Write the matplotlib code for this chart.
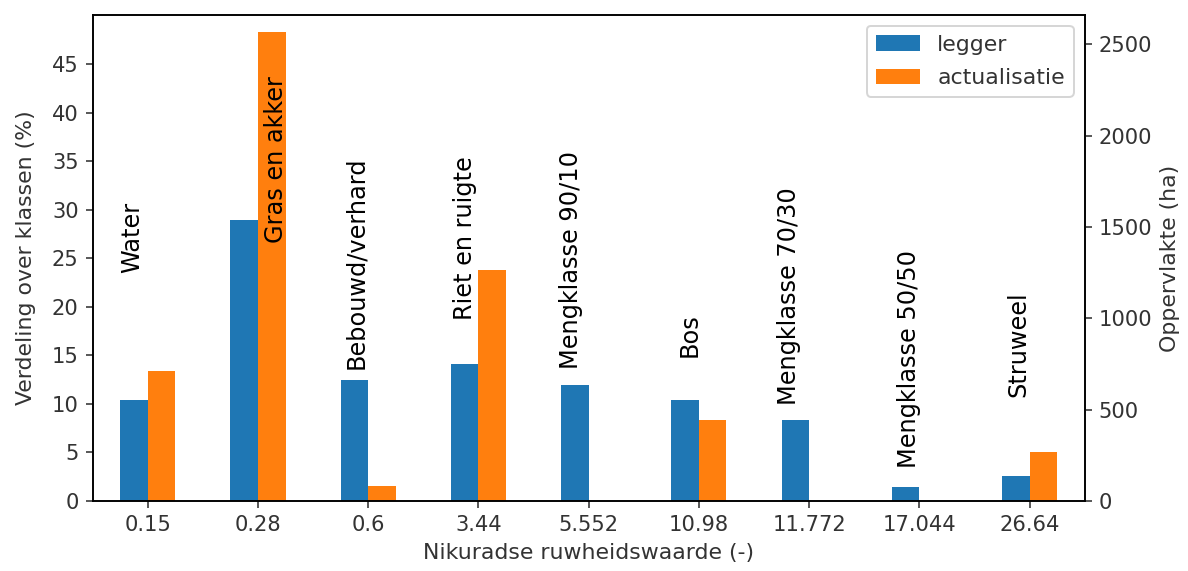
import numpy as np
import matplotlib
matplotlib.use('Agg')
import matplotlib.pyplot as plt

# ruwheidsklassen (Nikuradse k-waarde) en verdeling in %
ruwheid = ['0.15', '0.28', '0.6', '3.44', '5.552', '10.98', '11.772', '17.044', '26.64']
klassen = ['Water', 'Gras en akker', 'Bebouwd/verhard', 'Riet en ruigte', 'Mengklasse 90/10',
           'Bos', 'Mengklasse 70/30', 'Mengklasse 50/50', 'Struweel']
legger = [10.4, 29.0, 12.5, 14.1, 12.0, 10.4, 8.3, 1.45, 2.6]
actualisatie = [13.4, 48.3, 1.5, 23.8, 0.0, 8.3, 0.0, 0.0, 5.1]

# plaats van de klassenamen (offset t.o.v. groep, onderkant tekst in %)
label_dx = [-0.14, 0.16, -0.11, -0.12, -0.16, -0.08, -0.18, -0.09, -0.10]
label_y = [23.5, 26.6, 13.6, 18.65, 13.6, 14.8, 9.9, 3.4, 10.75]

tekstkleur = '#333333'

fig = plt.figure(figsize=(1188 / 144, 571 / 144), dpi=144)
ax = fig.add_axes([0.078, 0.1226, 0.835, 0.8511])

x = np.arange(len(ruwheid))
w = 0.25
ax.bar(x - w / 2, legger, w, color='#1f77b4', label='legger')
ax.bar(x + w / 2, actualisatie, w, color='#ff7f0e', label='actualisatie')

for i in range(len(klassen)):
    ax.text(x[i] + label_dx[i], label_y[i], klassen[i], rotation=90,
            ha='center', va='bottom', fontsize=12, color='black')

ax.set_xlim(-0.5, len(ruwheid) - 0.5)
ax.set_ylim(0, 50.1)
ax.set_yticks(np.arange(0, 50, 5))
ax.set_xticks(x)
ax.set_xticklabels(ruwheid)
ax.tick_params(labelsize=10.5, colors=tekstkleur)
ax.set_xlabel('Nikuradse ruwheidswaarde (-)', fontsize=11, color=tekstkleur)
ax.set_ylabel('Verdeling over klassen (%)', fontsize=11, color=tekstkleur, labelpad=8)

ax2 = ax.twinx()
ax2.set_ylim(0, 2660)
ax2.set_yticks(np.arange(0, 2600, 500))
ax2.tick_params(labelsize=10.5, colors=tekstkleur)
ax2.set_ylabel('Oppervlakte (ha)', fontsize=11, color=tekstkleur)

leg = ax.legend(loc='upper right', fontsize=11, labelspacing=0.6)
for t in leg.get_texts():
    t.set_color(tekstkleur)

fig.savefig('out.png', dpi=144)
